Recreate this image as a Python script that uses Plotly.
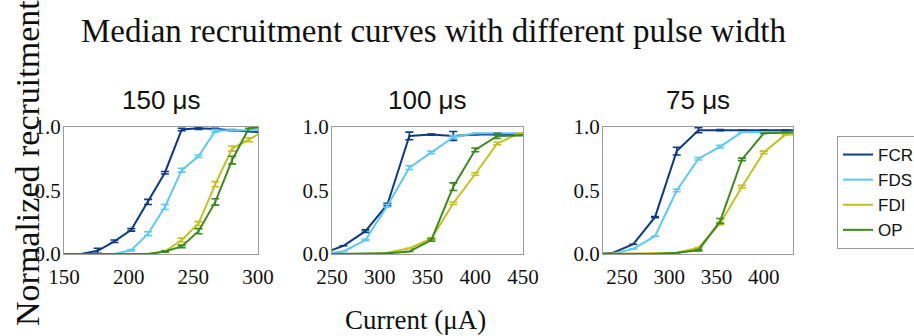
import plotly.graph_objects as go

# ---------------- data ----------------
muscles = ["FCR", "FDS", "FDI", "OP"]
colors = {"FCR": "#0d3c85", "FDS": "#5cc8f5", "FDI": "#c3c21c", "OP": "#3a8a1c"}

# 150 us
x150 = [150, 163, 176, 189, 202, 215, 228, 241, 254, 267, 280, 293, 306]
y150 = {
    "FCR": [0.0, 0.0, 0.025, 0.10, 0.19, 0.41, 0.64, 0.98, 0.99, 0.985, 0.975, 0.965, 0.955],
    "FDS": [0.0, 0.0, 0.0, 0.0, 0.03, 0.16, 0.37, 0.66, 0.77, 0.97, 0.975, 0.975, 0.975],
    "FDI": [0.0, 0.0, 0.0, 0.0, 0.0, 0.0, 0.02, 0.11, 0.24, 0.55, 0.83, 0.90, 0.975],
    "OP":  [0.0, 0.0, 0.0, 0.0, 0.0, 0.0, 0.02, 0.06, 0.18, 0.41, 0.74, 0.99, 1.0],
}
e150 = {
    "FCR": [0, 0, 0.02, 0.01, 0.01, 0.02, 0.01, 0.01, 0.01, 0.005, 0.005, 0, 0],
    "FDS": [0, 0, 0, 0, 0.005, 0.015, 0.02, 0.015, 0.01, 0.01, 0, 0, 0],
    "FDI": [0, 0, 0, 0, 0, 0, 0.005, 0.015, 0.015, 0.02, 0.02, 0.015, 0],
    "OP":  [0, 0, 0, 0, 0, 0, 0.005, 0.01, 0.02, 0.025, 0.03, 0, 0],
}

# 100 us
x100 = [239, 262, 285, 308, 331, 354, 377, 400, 423, 446, 469]
y100 = {
    "FCR": [0.0, 0.065, 0.18, 0.39, 0.93, 0.94, 0.93, 0.94, 0.94, 0.945, 0.945],
    "FDS": [0.0, 0.02, 0.11, 0.38, 0.68, 0.80, 0.92, 0.95, 0.95, 0.95, 0.95],
    "FDI": [0.0, 0.0, 0.0, 0.01, 0.045, 0.12, 0.40, 0.63, 0.87, 0.95, 0.95],
    "OP":  [0.0, 0.0, 0.0, 0.005, 0.02, 0.11, 0.53, 0.82, 0.93, 0.935, 0.935],
}
e100 = {
    "FCR": [0, 0, 0.01, 0.01, 0.03, 0.005, 0.035, 0, 0, 0, 0],
    "FDS": [0, 0, 0.005, 0.01, 0.015, 0.01, 0.01, 0, 0, 0, 0],
    "FDI": [0, 0, 0, 0, 0, 0.01, 0.01, 0.01, 0.01, 0, 0],
    "OP":  [0, 0, 0, 0, 0, 0.01, 0.03, 0.015, 0.02, 0, 0],
}

# 75 us
x75 = [216, 239, 262, 285, 308, 331, 354, 377, 400, 423, 446]
y75 = {
    "FCR": [0.0, 0.005, 0.077, 0.29, 0.81, 0.975, 0.975, 0.975, 0.975, 0.975, 0.975],
    "FDS": [0.0, 0.0, 0.04, 0.14, 0.50, 0.75, 0.845, 0.96, 0.96, 0.96, 0.96],
    "FDI": [0.0, 0.0, 0.0, 0.005, 0.01, 0.05, 0.24, 0.53, 0.80, 0.94, 0.94],
    "OP":  [0.0, 0.0, 0.0, 0.0, 0.01, 0.03, 0.26, 0.745, 0.95, 0.96, 0.96],
}
e75 = {
    "FCR": [0, 0, 0, 0.005, 0.03, 0.02, 0.005, 0, 0, 0, 0],
    "FDS": [0, 0, 0, 0, 0.01, 0.01, 0.01, 0, 0, 0, 0],
    "FDI": [0, 0, 0, 0, 0, 0, 0.01, 0.01, 0.01, 0, 0],
    "OP":  [0, 0, 0, 0, 0, 0.005, 0.02, 0.01, 0, 0, 0],
}

panels = [
    ("150 μs", x150, y150, e150, [150, 300], [150, 200, 250, 300]),
    ("100 μs", x100, y100, e100, [250, 450], [250, 300, 350, 400, 450]),
    ("75 μs", x75, y75, e75, [230, 431], [250, 300, 350, 400]),
]

W, H = 914, 336
xdom_px = [(64, 258), (332, 523), (603, 793)]
ydom = [1 - 254 / H, 1 - 127 / H]

serif = "Liberation Serif, Times New Roman, serif"
sans = "Liberation Sans, Arial, sans-serif"

fig = go.Figure()
for i, (name, xs, ys, es, xr, xt) in enumerate(panels):
    ax = "" if i == 0 else str(i + 1)
    for m in muscles:
        fig.add_trace(go.Scatter(
            x=xs, y=ys[m], mode="lines", name=m,
            line=dict(color=colors[m], width=2),
            error_y=dict(type="data", array=es[m], color=colors[m], thickness=1.6, width=4),
            xaxis="x" + ax, yaxis="y" + ax,
            showlegend=(i == 0), legendgroup=m,
            cliponaxis=True,
        ))
    axis_common = dict(showline=True, mirror=True, linecolor="#9a9a9a", linewidth=1,
                       showgrid=False, zeroline=False, ticks="", automargin=False,
                       tickfont=dict(family=serif, size=21, color="#111"))
    fig.update_layout(**{
        "xaxis" + ax: dict(domain=[xdom_px[i][0] / W, xdom_px[i][1] / W], range=xr,
                           tickvals=xt, anchor="y" + ax, ticklabelstandoff=4,
                           **axis_common),
        "yaxis" + ax: dict(domain=ydom, range=[0, 1], tickvals=[0, 0.5, 1.0],
                           ticktext=["0.0", "0.5", "1.0"], anchor="x" + ax,
                           ticklabelstandoff=-2, **axis_common),
    })
    fig.add_annotation(text=name, xref="paper", yref="paper",
                       x=(xdom_px[i][0] + xdom_px[i][1]) / 2 / W, y=1 - 100 / H,
                       xanchor="center", yanchor="middle", showarrow=False,
                       font=dict(family=sans, size=26, color="#111"))

fig.add_annotation(text="Median recruitment curves with different pulse width",
                   xref="paper", yref="paper", x=434 / W, y=1 - 31 / H,
                   xanchor="center", yanchor="middle", showarrow=False,
                   font=dict(family=serif, size=33, color="#111"))
fig.add_annotation(text="Current (μA)", xref="paper", yref="paper",
                   x=415 / W, y=1 - 320 / H, xanchor="center", yanchor="middle",
                   showarrow=False, font=dict(family=serif, size=27, color="#111"))
fig.add_annotation(text="Normalized recruitment", xref="paper", yref="paper",
                   x=27 / W, y=1 - 163 / H, xanchor="center", yanchor="middle",
                   textangle=-90, showarrow=False,
                   font=dict(family=serif, size=34, color="#111"))

fig.update_layout(
    width=W, height=H, margin=dict(l=0, r=0, t=0, b=0, autoexpand=False),
    paper_bgcolor="white", plot_bgcolor="white",
    legend=dict(x=837 / W, y=1 - 136 / H, xanchor="left", yanchor="top",
                bordercolor="#9a9a9a", borderwidth=1, bgcolor="white",
                font=dict(family=sans, size=17, color="#111"),
                tracegroupgap=0, itemwidth=30),
)

fig.write_html("out.html", config={"displayModeBar": False},
               post_script="document.body.style.margin='0';document.body.style.overflow='hidden';")
